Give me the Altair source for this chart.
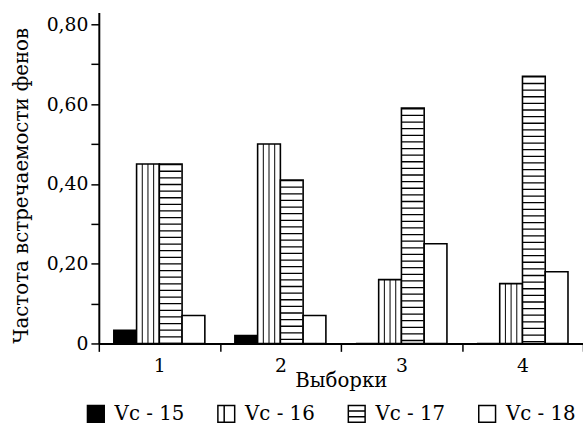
import altair as alt
import pandas as pd

# ---- data ----
groups = [1, 2, 3, 4]
series = ["Vc - 15", "Vc - 16", "Vc - 17", "Vc - 18"]
vc15 = [0.033, 0.02, 0.0, 0.0]
vc16 = [0.45, 0.50, 0.16, 0.15]
vc17 = [0.45, 0.41, 0.59, 0.67]
vc18 = [0.07, 0.07, 0.25, 0.18]
y_ticks = [0, 0.1, 0.2, 0.3, 0.4, 0.5, 0.6, 0.7, 0.8]
x_ticks = [0.5, 1, 1.5, 2, 2.5, 3, 3.5, 4, 4.5]
x_title = "Выборки"
y_title = "Частота встречаемости фенов"

rows = []
for si, (name, vals) in enumerate(zip(series, [vc15, vc16, vc17, vc18])):
    for g, v in zip(groups, vals):
        rows.append({"group": g, "series": name, "si": si, "value": v})
df = pd.DataFrame(rows)

FONT = "DejaVu Serif"
BW = 0.188  # bar width in group units

xscale = alt.Scale(domain=[0.5, 4.5], nice=False, zero=False)
yscale = alt.Scale(domain=[0, 0.83], nice=False, zero=True)

xaxis = alt.Axis(
    values=x_ticks,
    labelExpr="datum.value % 1 == 0 ? format(datum.value, 'd') : ''",
    tickOpacity={"condition": {"test": "datum.value % 1 == 0", "value": 0}, "value": 1},
    tickSize=8, tickWidth=1.5, tickColor="black",
    domainWidth=2, domainColor="black",
    labelFont=FONT, labelFontSize=19, labelColor="black", labelPadding=5,
    labelOverlap=False, labelFlush=False, grid=False,
    titleFont=FONT, titleFontSize=20, titleFontWeight="normal", titleColor="black",
    titleY=28, titleBaseline="top",
)
yaxis = alt.Axis(
    values=y_ticks,
    labelExpr="datum.value == 0 ? '0' : (round(datum.value * 100) % 20 == 0 ? replace(format(datum.value, '.2f'), '.', ',') : '')",
    tickSize=8, tickWidth=1.5, tickColor="black",
    domainWidth=2, domainColor="black",
    labelFont=FONT, labelFontSize=19, labelColor="black", labelPadding=3,
    labelOverlap=False, labelFlush=False, grid=False,
    titleFont=FONT, titleFontSize=20, titleFontWeight="normal", titleColor="black",
    titleX=-72, titleY=175, titleBaseline="alphabetic", titleAngle=270,
)

fill_scale = alt.Scale(domain=series, range=["black", "white", "white", "white"])
stroke_scale = alt.Scale(domain=series, range=["black", "black", "black", "black"])
SQ = "M-1,-1H1V1H-1Z"
shape_scale = alt.Scale(
    domain=series,
    range=[SQ, SQ + " M-0.25,-1V1", SQ + " M-1,-0.33H1 M-1,0.33H1", SQ],
)
legend = alt.Legend(
    title=None, orient="none", legendX=-13, legendY=396, direction="horizontal",
    columns=4, symbolSize=289, symbolStrokeWidth=1.5, symbolOpacity=1,
    labelFont=FONT, labelFontSize=20, labelColor="black",
    labelOffset=9, columnPadding=30, labelLimit=0,
)

base = alt.Chart(df).transform_calculate(
    xl=f"datum.group + (datum.si - 2) * {BW}",
    xr=f"datum.group + (datum.si - 1) * {BW}",
    xc=f"datum.group + (datum.si - 1.5) * {BW}",
)

X = lambda f: alt.X(f, scale=xscale, axis=xaxis, title=x_title)
Y = lambda: alt.Y("value:Q", scale=yscale, axis=yaxis, title=y_title)

bars = base.mark_bar(stroke="black", strokeWidth=1.6).encode(
    x=X("xl:Q"), x2="xr:Q", y=Y(), y2=alt.datum(0),
    fill=alt.condition("datum.si == 0", alt.value("black"), alt.value("white")),
)

hstripes = base.transform_filter("datum.si == 2").mark_rule(
    color="black", strokeWidth=22, strokeDash=[1.3, 5.4], strokeCap="butt"
).encode(x=X("xc:Q"), y=Y(), y2=alt.datum(0))

vlayers = []
for k in [1, 2, 3]:
    vlayers.append(
        base.transform_filter("datum.si == 1")
        .transform_calculate(xs=f"datum.xl + {k} * {BW} / 4")
        .mark_rule(color="black", strokeWidth=1)
        .encode(x=X("xs:Q"), y=Y(), y2=alt.datum(0))
    )

legend_layer = base.mark_point(opacity=0, strokeWidth=1.5).encode(
    x=X("xc:Q"), y=Y(),
    fill=alt.Fill("series:N", scale=fill_scale, legend=legend),
    stroke=alt.Stroke("series:N", scale=stroke_scale, legend=legend),
    shape=alt.Shape("series:N", scale=shape_scale, legend=legend),
)

chart = alt.layer(bars, hstripes, *vlayers, legend_layer).properties(
    width=490, height=335,
    autosize=alt.AutoSizeParams(type="none"),
    padding={"left": 100, "top": 10, "right": 0, "bottom": 86},
    background="white",
).configure(font=FONT).configure_view(stroke=None).configure_legend(
    symbolSize=289, symbolStrokeWidth=1.5, symbolOpacity=1,
    labelFont=FONT, labelFontSize=20, labelColor="black",
    labelOffset=9, columnPadding=30, labelLimit=0,
)

chart.save("out.html", embed_options={"renderer": "svg", "actions": False})
